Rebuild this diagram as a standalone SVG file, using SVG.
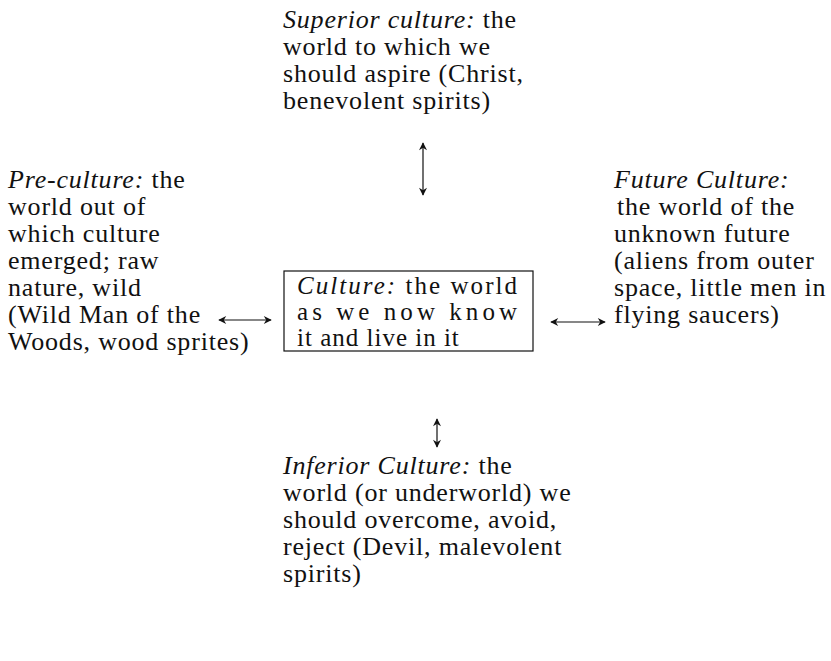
<svg xmlns="http://www.w3.org/2000/svg" width="831" height="661" viewBox="0 0 831 661">
<style>
text{font-family:"Liberation Serif","Times New Roman",serif;font-size:26px;letter-spacing:0.8px;fill:#111}
.i{font-style:italic}
.b{font-size:25px;letter-spacing:1px}
.c{stroke:#111;stroke-width:1.2;fill:none}
</style>
<defs>
<marker id="ah" viewBox="0 0 10 10" refX="9" refY="5" markerWidth="9" markerHeight="8" orient="auto-start-reverse" markerUnits="userSpaceOnUse"><path d="M0,0 L10,5 L0,10 L3,5 z" fill="#111"/></marker>
</defs>
<rect width="831" height="661" fill="#fff"/>
<g id="superior">
<text x="283" y="28"><tspan class="i">Superior culture:</tspan> the</text>
<text x="283" y="55">world to which we</text>
<text x="283" y="82">should aspire (Christ,</text>
<text x="283" y="109">benevolent spirits)</text>
</g>
<g id="pre">
<text x="8" y="188"><tspan class="i">Pre-culture:</tspan> the</text>
<text x="8" y="215">world out of</text>
<text x="8" y="242">which culture</text>
<text x="8" y="269">emerged; raw</text>
<text x="8" y="296">nature, wild</text>
<text x="8" y="323">(Wild Man of the</text>
<text x="8" y="350">Woods, wood sprites)</text>
</g>
<g id="culture">
<rect x="284" y="271" width="249" height="80" class="c"/>
<text class="b" x="297" y="294" textLength="221" lengthAdjust="spacing"><tspan class="i">Culture:</tspan> the world</text>
<text class="b" x="297" y="320" textLength="221" lengthAdjust="spacing">as we now know</text>
<text class="b" x="297" y="346">it and live in it</text>
</g>
<g id="future">
<text x="614" y="188" class="i">Future Culture:</text>
<text x="617" y="215">the world of the</text>
<text x="614" y="242">unknown future</text>
<text x="614" y="269">(aliens from outer</text>
<text x="614" y="296">space, little men in</text>
<text x="614" y="323">flying saucers)</text>
</g>
<g id="inferior">
<text x="283" y="474"><tspan class="i">Inferior Culture:</tspan> the</text>
<text x="283" y="501">world (or underworld) we</text>
<text x="283" y="528">should overcome, avoid,</text>
<text x="283" y="555">reject (Devil, malevolent</text>
<text x="283" y="582">spirits)</text>
</g>
<g id="connectors">
<line x1="423" y1="143" x2="423" y2="195" class="c" marker-start="url(#ah)" marker-end="url(#ah)"/>
<line x1="437" y1="419" x2="437" y2="447" class="c" marker-start="url(#ah)" marker-end="url(#ah)"/>
<line x1="219" y1="320" x2="271" y2="320" class="c" marker-start="url(#ah)" marker-end="url(#ah)"/>
<line x1="551" y1="322" x2="605" y2="322" class="c" marker-start="url(#ah)" marker-end="url(#ah)"/>
</g>
</svg>
